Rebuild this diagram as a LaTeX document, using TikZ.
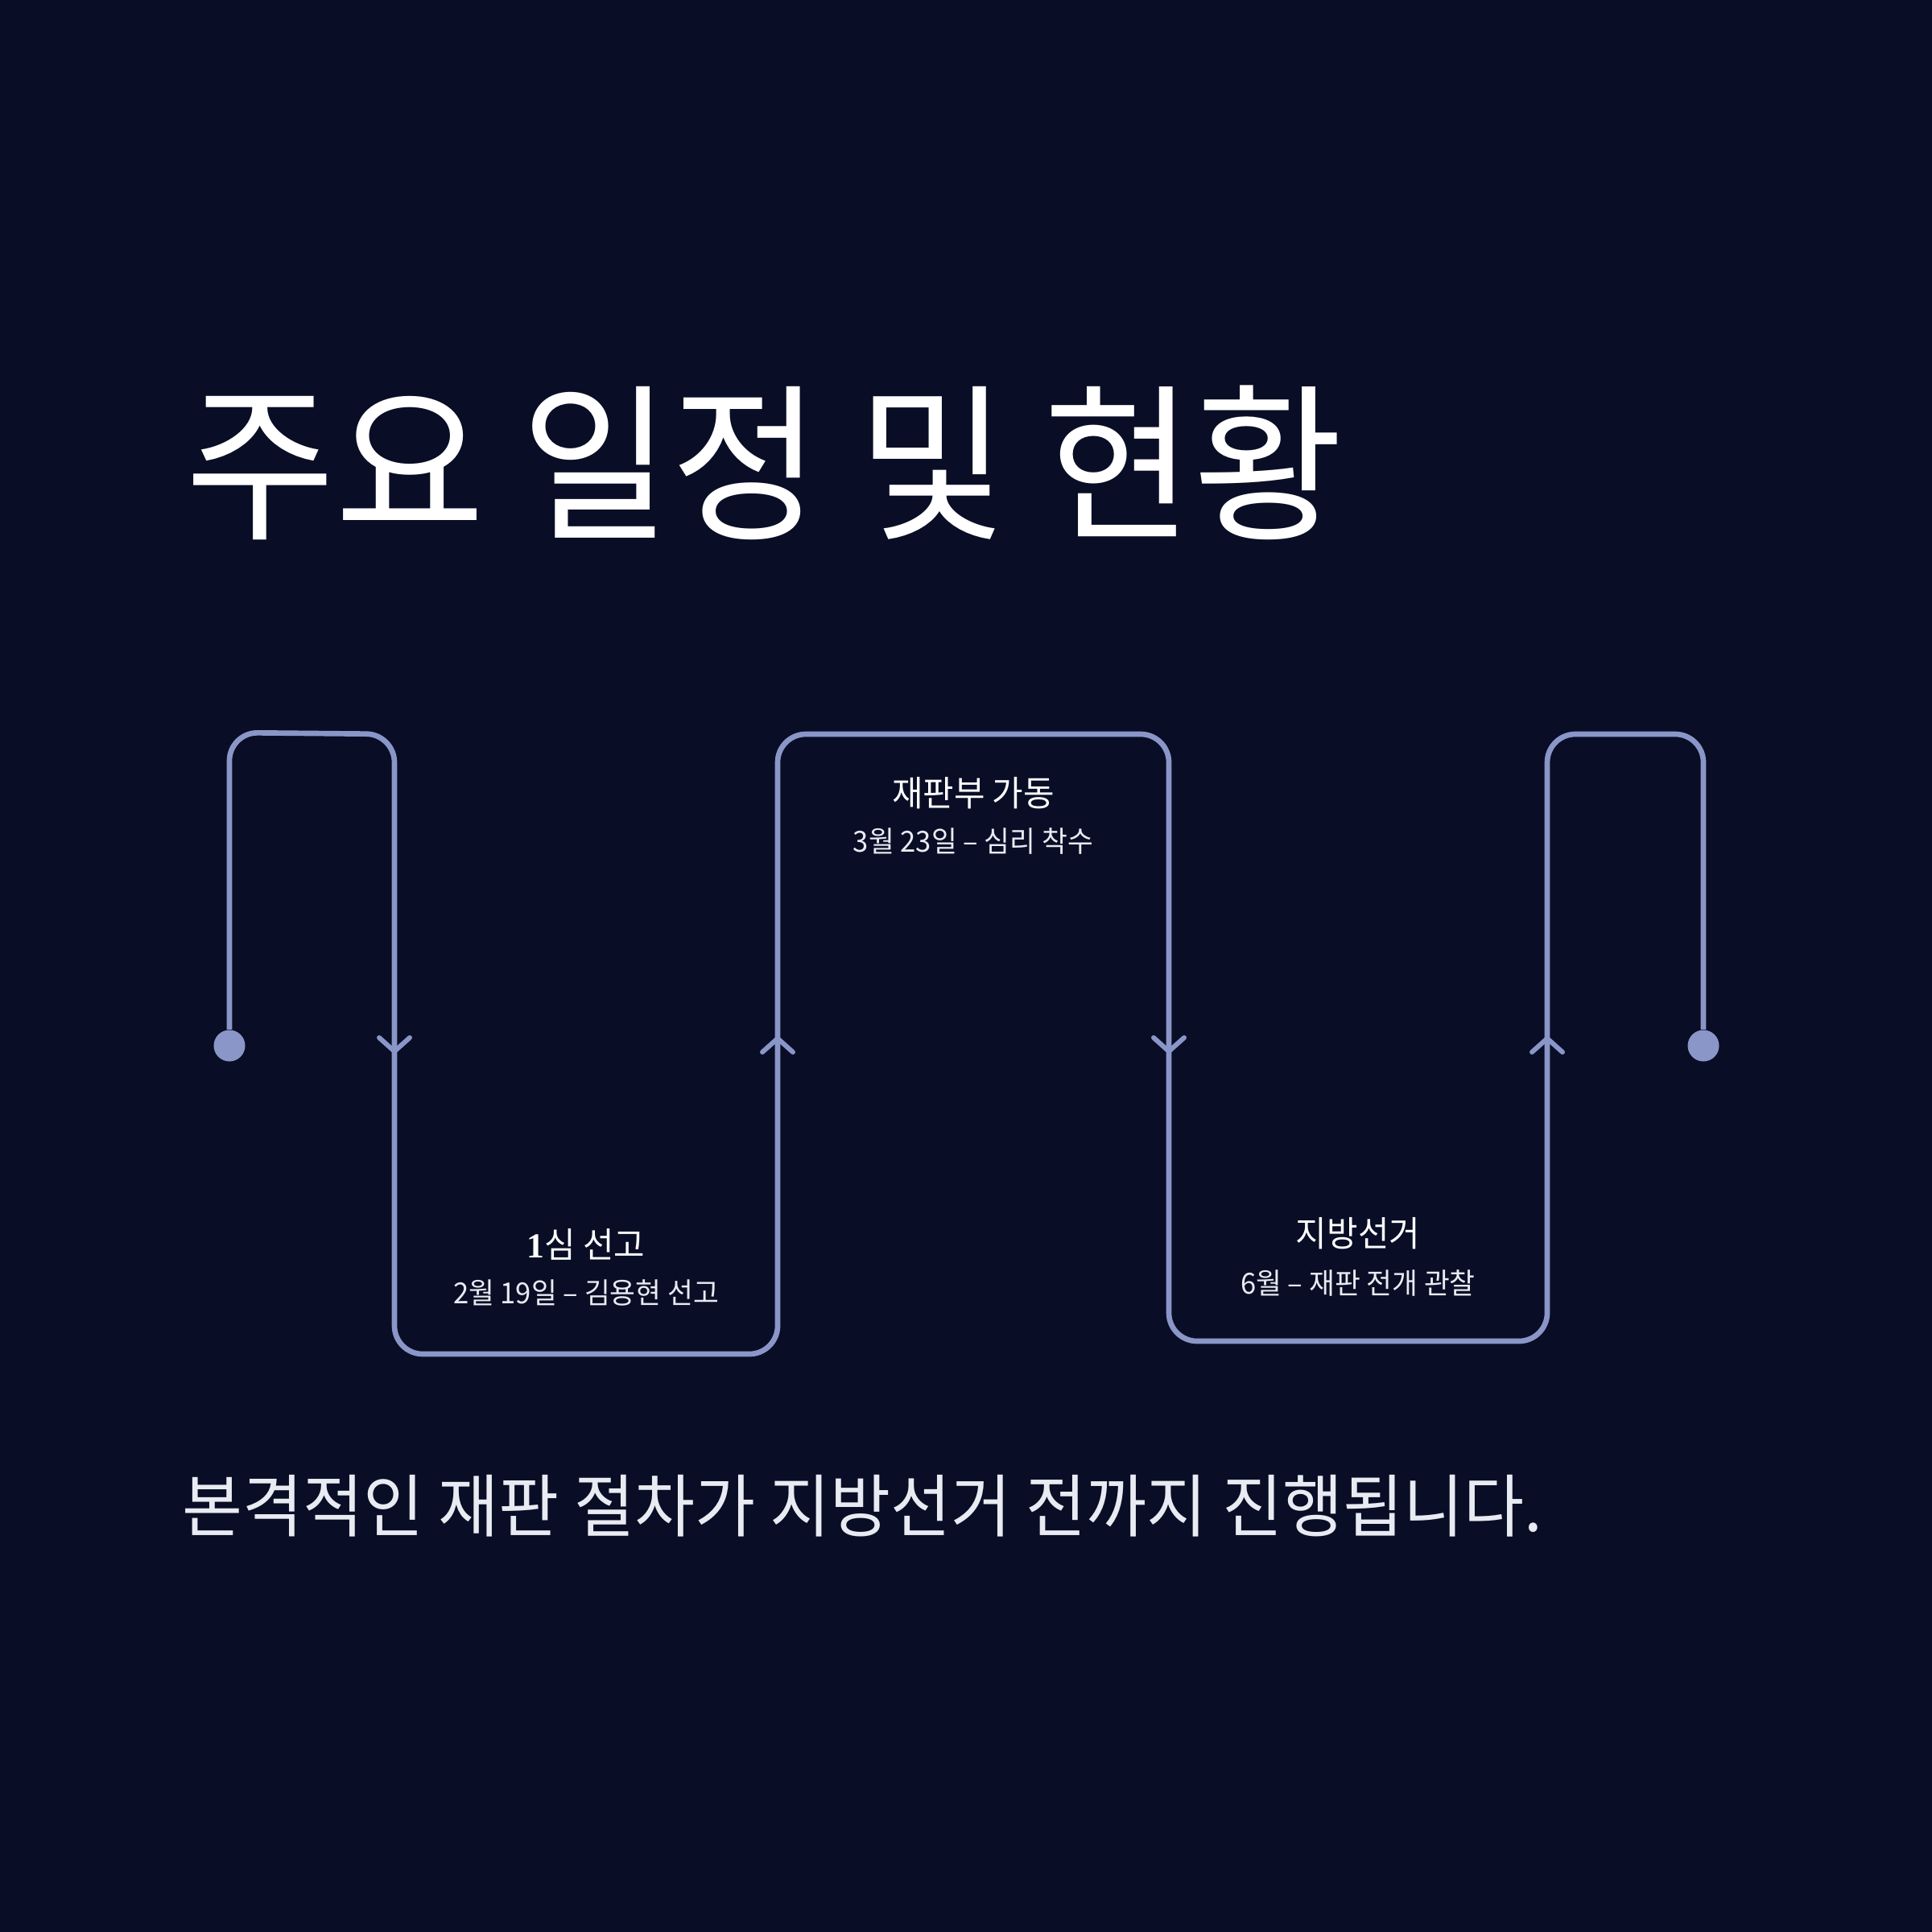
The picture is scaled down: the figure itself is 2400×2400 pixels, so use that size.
\documentclass[tikz,border=0pt]{standalone}
\usepackage{fontspec}
\setmainfont{Noto Sans CJK KR}[FakeStretch=0.96]
\newfontfamily\numfont{Liberation Serif}
\usetikzlibrary{arrows.meta}

\definecolor{nightbg}{HTML}{090E26}
\definecolor{lavender}{HTML}{8A96C8}
\definecolor{softwhite}{HTML}{E9EBF2}

\tikzset{
  lane/.style={line width=1.9pt, lavender, rounded corners=0.35cm},
  chev/.style={line width=1.7pt, lavender, line cap=round, line join=round},
  enddot/.style={circle, fill=lavender, inner sep=0pt, minimum size=0.39cm},
  evtitle/.style={white, inner sep=0pt, font=\fontsize{12.4pt}{14pt}\selectfont},
  evdate/.style={softwhite, inner sep=0pt, font=\fontsize{10.25pt}{12pt}\selectfont},
}

\begin{document}
\begin{tikzpicture}[x=0.01cm, y=-0.01cm]
  \fill[nightbg] (0,0) rectangle (2400,2400);
  \useasboundingbox (0,0) rectangle (2400,2400);

  % heading
  \node[anchor=west, white, inner sep=0pt, font=\fontsize{59.9pt}{62pt}\selectfont]
    (heading) at (230,575) {주요 일정 및 현황};

  % the winding time line
  \node[enddot] (start) at (285,1299) {};
  \node[enddot] (finish) at (2116,1299) {};
  \draw[lane] (start) -- (285,910) -- (490,912) -- (490,1682) -- (966,1682)
    -- (966,912) -- (1452,912) -- (1452,1666) -- (1922,1666) -- (1922,912)
    -- (2116,912) -- (finish);

  % direction marks
  \foreach \x in {490,1452}
    \draw[chev] (\x-19,1289) -- (\x,1306) -- (\x+19,1289);
  \foreach \x in {966,1922}
    \draw[chev] (\x-19,1307) -- (\x,1290) -- (\x+19,1307);

  % events
  \node[evtitle] (verdict) at (728,1546) {{\numfont\bfseries 1}심 선고};
  \node[evdate] (verdictdate) at (728,1606) {2월 19일 – 김용현 선고};
  \node[evtitle] (bench) at (1209,985) {재판부 가동};
  \node[evdate] (benchdate) at (1209,1045) {3월 23일 – 심리 착수};
  \node[evtitle] (election) at (1687,1532) {지방선거};
  \node[evdate] (electiondate) at (1687,1594) {6월 – 재판 전개 관찰};

  % summary line
  \node[anchor=west, softwhite, inner sep=0pt, font=\fontsize{24.15pt}{26pt}\selectfont]
    (summary) at (226,1871) {본격적인 재판 절차가 지방선거 전까지 진행됩니다.};
\end{tikzpicture}
\end{document}
